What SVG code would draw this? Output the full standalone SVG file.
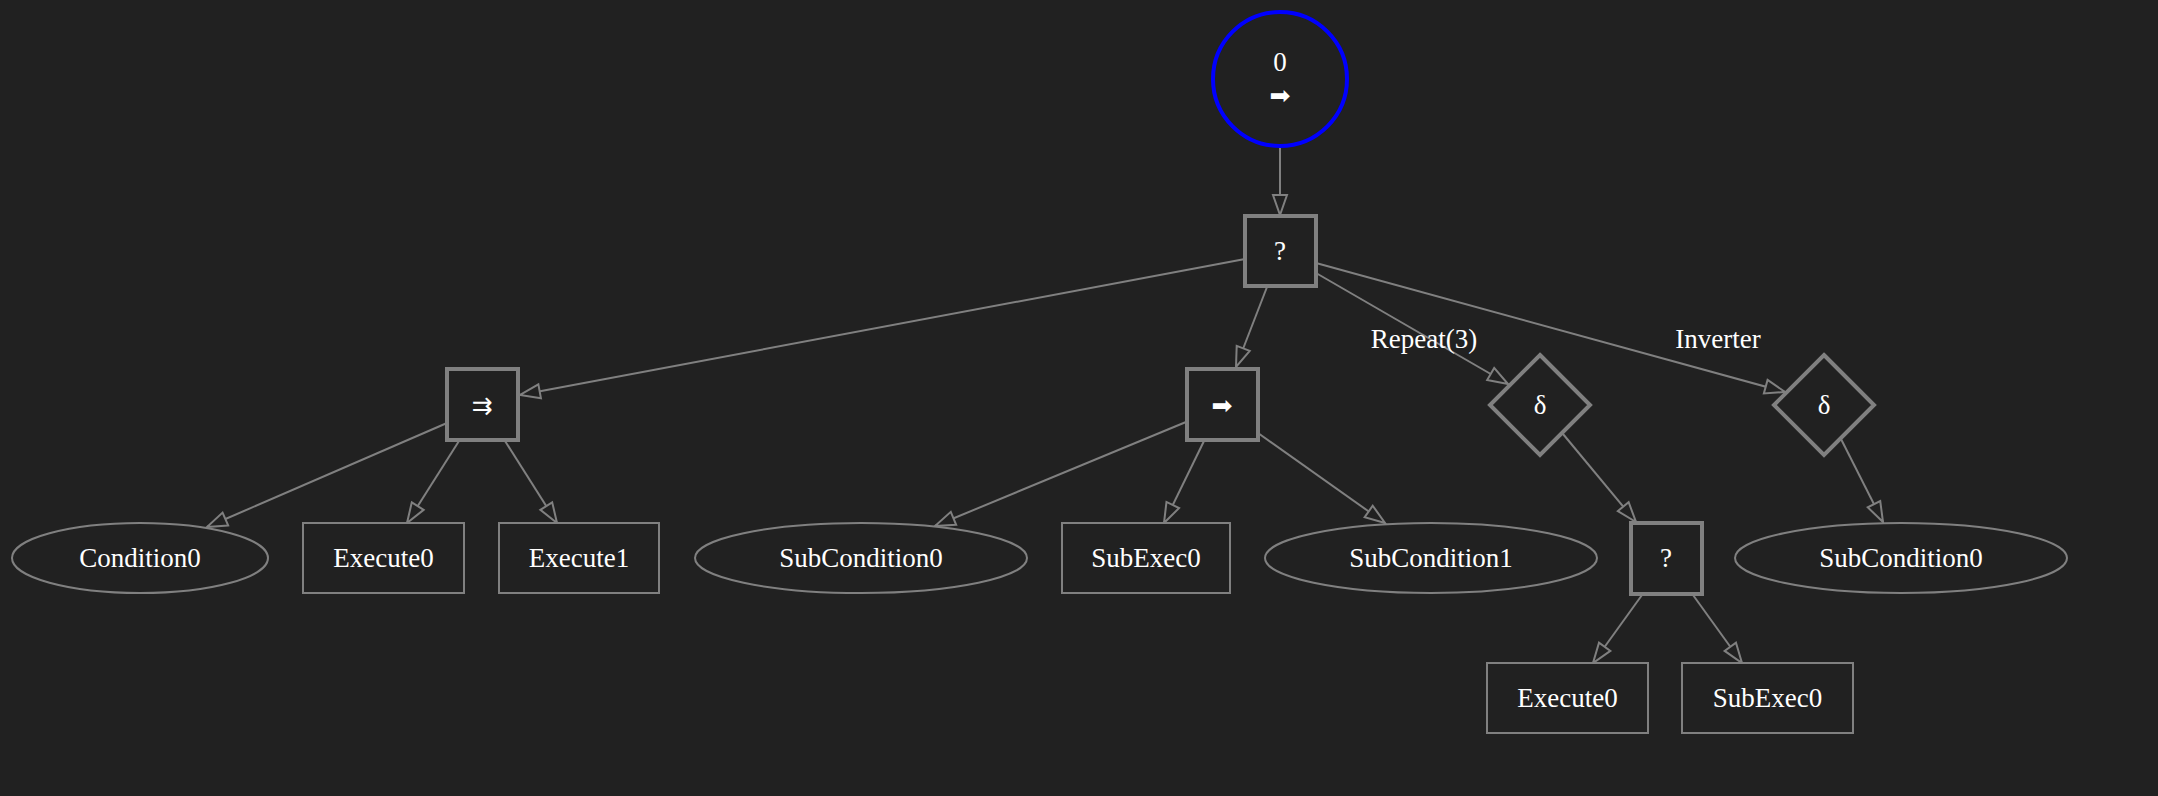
<svg xmlns="http://www.w3.org/2000/svg" width="2158" height="796" viewBox="0 0 2158 796">
  <style>
    .bg { fill: #212121; }
    .bold { fill: #212121; stroke: #808080; stroke-width: 4; }
    .thin { fill: #212121; stroke: #808080; stroke-width: 2; }
    .root { fill: #212121; stroke: #0000ff; stroke-width: 4; }
    .edge { fill: none; stroke: #808080; stroke-width: 2; }
    text { font-family: "Liberation Serif", "DejaVu Sans", serif; font-size: 27px; fill: #ffffff; text-anchor: middle; }
    .sym { font-family: "DejaVu Sans", "Liberation Serif", sans-serif; font-size: 25px; }
  </style>
  <defs>
    <marker id="arrow" markerUnits="userSpaceOnUse" markerWidth="24" markerHeight="18" refX="20" refY="7" orient="auto" viewBox="-2 -2 24 18">
      <path d="M0,0 L20,7 L0,14 Z" fill="#212121" stroke="#808080" stroke-width="2"/>
    </marker>
  </defs>
  <rect class="bg" x="0" y="0" width="2158" height="796"/>

  <!-- connectors -->
  <g id="edges">
    <path class="edge" marker-end="url(#arrow)" d="M1280,146 L1280,215"/>
    <path class="edge" marker-end="url(#arrow)" d="M1245,259 L520,395"/>
    <path class="edge" marker-end="url(#arrow)" d="M1267,287 L1236,367"/>
    <path class="edge" marker-end="url(#arrow)" d="M1316,273 L1508,384"/>
    <path class="edge" marker-end="url(#arrow)" d="M1316,263 L1785,392"/>
    <path class="edge" marker-end="url(#arrow)" d="M447,423 L207,527"/>
    <path class="edge" marker-end="url(#arrow)" d="M459,441 L407,523"/>
    <path class="edge" marker-end="url(#arrow)" d="M505,441 L557,523"/>
    <path class="edge" marker-end="url(#arrow)" d="M1186,422 L935,526"/>
    <path class="edge" marker-end="url(#arrow)" d="M1204,441 L1164,523"/>
    <path class="edge" marker-end="url(#arrow)" d="M1258,433 L1385,523"/>
    <path class="edge" marker-end="url(#arrow)" d="M1563,434 L1636,522"/>
    <path class="edge" marker-end="url(#arrow)" d="M1841,439 L1883,522"/>
    <path class="edge" marker-end="url(#arrow)" d="M1642,595 L1593,663"/>
    <path class="edge" marker-end="url(#arrow)" d="M1693,595 L1742,663"/>
    <text x="1424" y="348">Repeat(3)</text>
    <text x="1718" y="348">Inverter</text>
  </g>

  <!-- nodes -->
  <g id="root">
    <circle class="root" cx="1280" cy="79" r="67"/>
    <text x="1280" y="71">0</text>
    <text class="sym" x="1280" y="104">➡</text>
  </g>
  <g id="selector">
    <rect class="bold" x="1245" y="216" width="71" height="70"/>
    <text x="1280" y="260">?</text>
  </g>
  <g id="parallel">
    <rect class="bold" x="447" y="369" width="71" height="71"/>
    <text class="sym" x="482" y="414">⇉</text>
  </g>
  <g id="sequence">
    <rect class="bold" x="1187" y="369" width="71" height="71"/>
    <text class="sym" x="1222" y="414">➡</text>
  </g>
  <g id="repeat">
    <polygon class="bold" points="1540,355 1590,405 1540,455 1490,405"/>
    <text x="1540" y="414">δ</text>
  </g>
  <g id="inverter">
    <polygon class="bold" points="1824,355 1874,405 1824,455 1774,405"/>
    <text x="1824" y="414">δ</text>
  </g>
  <g id="condition0">
    <ellipse class="thin" cx="140" cy="558" rx="128" ry="35"/>
    <text x="140" y="567">Condition0</text>
  </g>
  <g id="execute0">
    <rect class="thin" x="303" y="523" width="161" height="70"/>
    <text x="383.5" y="567">Execute0</text>
  </g>
  <g id="execute1">
    <rect class="thin" x="499" y="523" width="160" height="70"/>
    <text x="579" y="567">Execute1</text>
  </g>
  <g id="subcondition0">
    <ellipse class="thin" cx="861" cy="558" rx="166" ry="35"/>
    <text x="861" y="567">SubCondition0</text>
  </g>
  <g id="subexec0">
    <rect class="thin" x="1062" y="523" width="168" height="70"/>
    <text x="1146" y="567">SubExec0</text>
  </g>
  <g id="subcondition1">
    <ellipse class="thin" cx="1431" cy="558" rx="166" ry="35"/>
    <text x="1431" y="567">SubCondition1</text>
  </g>
  <g id="selector2">
    <rect class="bold" x="1631" y="523" width="71" height="71"/>
    <text x="1666" y="567">?</text>
  </g>
  <g id="subcondition0b">
    <ellipse class="thin" cx="1901" cy="558" rx="166" ry="35"/>
    <text x="1901" y="567">SubCondition0</text>
  </g>
  <g id="execute0b">
    <rect class="thin" x="1487" y="663" width="161" height="70"/>
    <text x="1567.5" y="707">Execute0</text>
  </g>
  <g id="subexec0b">
    <rect class="thin" x="1682" y="663" width="171" height="70"/>
    <text x="1767.5" y="707">SubExec0</text>
  </g>
</svg>
